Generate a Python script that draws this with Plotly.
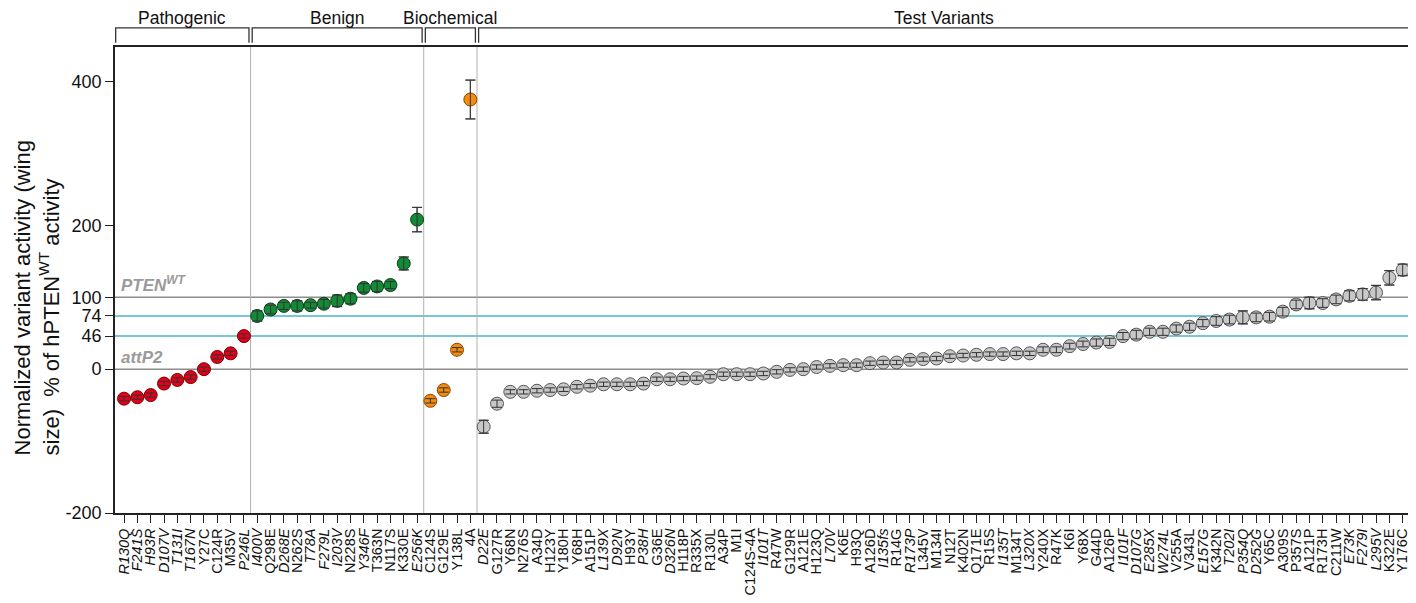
import plotly.graph_objects as go

# ---------------- data ----------------
path_labels = ["R130Q", "F241S", "H93R", "D107V", "T131I", "T167N", "Y27C", "C124R", "M35V", "P246L"]
path_vals = [-41, -39, -36, -20, -15, -11, 0, 17, 22, 46]
path_err = [3, 3, 3, 3, 3, 3, 3, 3, 3, 3]

benign_labels = ["I400V", "Q298E", "D268E", "N262S", "T78A", "F279L", "I203V", "N228S", "Y346F",
                 "T363N", "N117S", "K330E", "E256K"]
benign_vals = [74, 83, 88, 88, 89, 91, 95, 98, 113, 115, 117, 147, 208]
benign_err = [7, 6, 5, 7, 4, 6, 8, 7, 6, 7, 5, 9, 17]

bio_labels = ["C124S", "G129E", "Y138L", "4A"]
bio_vals = [-44, -29, 27, 375]
bio_err = [3, 3, 3, 27]

test_labels = ["D22E", "G127R", "Y68N", "N276S", "A34D", "H123Y", "Y180H", "Y68H", "A151P", "L139X",
               "D92N", "H93Y", "P38H", "G36E", "D326N", "H118P", "R335X", "R130L", "A34P", "M1I",
               "C124S-4A", "I101T", "R47W", "G129R", "A121E", "H123Q", "L70V", "K6E", "H93Q", "A126D",
               "I135fs", "R14G", "R173P", "L345V", "M134I", "N12T", "K402N", "Q171E", "R15S", "I135T",
               "M134T", "L320X", "Y240X", "R47K", "K6I", "Y68X", "G44D", "A126P", "I101F", "D107G",
               "E285X", "W274L", "V255A", "V343L", "E157G", "K342N", "T202I", "P354Q", "D252G", "Y65C",
               "A309S", "P357S", "A121P", "R173H", "C211W", "E73K", "F279I", "L295V", "K322E", "Y176C"]
test_vals = [-80, -48, -31.5, -31.5, -30, -29, -28, -24.5, -23, -21,
             -21, -21, -20, -14, -14, -13, -12.5, -10.6, -7, -7,
             -7, -6, -3.7, -1, 0, 3, 4.6, 5.6, 5.6, 8.3,
             9.3, 9.3, 13, 14, 14.8, 18, 19, 20, 21, 21,
             22, 22, 27, 27, 32, 35, 37, 38, 46, 48,
             52, 52, 56.5, 59, 64, 67, 69, 72, 72, 73,
             80, 90, 92, 92, 97, 102, 104, 106.5, 127, 138]
test_err = [9, 5, 3, 3, 3, 3, 3, 3, 3, 3,
            3, 3, 3, 3, 3, 3, 3, 3, 3, 3,
            3, 3, 3, 3, 3, 3, 3, 3, 3, 3,
            3, 3, 3, 3, 3, 3, 3, 3, 3, 3,
            3, 3, 4, 4, 4, 4, 5, 5, 5, 6,
            5, 5, 5, 5, 5, 6, 6, 9, 6, 6,
            6, 6, 8, 6, 6, 7, 8, 10, 10, 8]

italic_labels = {"R130Q", "F241S", "H93R", "D107V", "T131I", "T167N", "P246L",
                 "I400V", "D268E", "T78A", "F279L", "I203V", "Y346F", "E256K",
                 "D22E", "L139X", "D92N", "P38H", "D326N", "I101T", "L70V", "I135fs", "R173P",
                 "I135T", "L320X", "I101F", "D107G", "E285X", "W274L", "E157G", "T202I",
                 "P354Q", "D252G", "E73K", "F279I", "L295V"}

group_names = ["Pathogenic", "Benign", "Biochemical", "Test Variants"]
y_ticks = [-200, 0, 46, 74, 100, 200, 400]
ref_lines = [0, 100]
threshold_lines = [46, 74]

groups = [
    (path_labels, path_vals, path_err, "#e3001b", "#7a0000"),
    (benign_labels, benign_vals, benign_err, "#138a36", "#0b3d18"),
    (bio_labels, bio_vals, bio_err, "#f28c0f", "#8a4500"),
    (test_labels, test_vals, test_err, "#c8c8c8", "#555555"),
]

fig = go.Figure()
all_labels = []
start = 0
bounds = []
for labels, vals, errs, fill, edge in groups:
    xs = list(range(start, start + len(labels)))
    fig.add_trace(go.Scatter(
        x=xs, y=vals, mode="markers",
        marker=dict(size=13, color=fill, line=dict(color=edge, width=1)),
        error_y=dict(type="data", array=errs, visible=True, color="#444444", thickness=1, width=5),
        showlegend=False, cliponaxis=False,
    ))
    # error bars drawn again on top of the markers
    fig.add_trace(go.Scatter(
        x=xs, y=vals, mode="markers",
        marker=dict(size=1, color="rgba(0,0,0,0)"),
        error_y=dict(type="data", array=errs, visible=True, color="#333333", thickness=1, width=5),
        showlegend=False, hoverinfo="skip", cliponaxis=False,
    ))
    bounds.append((start, start + len(labels) - 1))
    all_labels += labels
    start += len(labels)

ticktext = [f"<i>{l}</i>" if l in italic_labels else l for l in all_labels]
n = len(all_labels)

shapes = []
for v in ref_lines:
    shapes.append(dict(type="line", xref="paper", x0=0, x1=1, yref="y", y0=v, y1=v,
                       line=dict(color="#8c8c8c", width=1.5), layer="below"))
for v in threshold_lines:
    shapes.append(dict(type="line", xref="paper", x0=0, x1=1, yref="y", y0=v, y1=v,
                       line=dict(color="#4db3c9", width=1.5), layer="below"))
for (a, b) in bounds[:-1]:
    shapes.append(dict(type="line", xref="x", x0=b + 0.5, x1=b + 0.5, yref="paper", y0=0, y1=1,
                       line=dict(color="#b0b0b0", width=1), layer="below"))

x_lo, x_hi = -0.68, n - 0.45
yt, yb = 1.041, 1.009
annotations = []
for i, (a, b) in enumerate(bounds):
    x0 = x_lo + 0.05 if i == 0 else a - 0.38
    x1 = x_hi - 0.1 if i == len(bounds) - 1 else b + 0.38
    shapes.append(dict(type="path", xref="x", yref="paper",
                       path=f"M {x0},{yb} L {x0},{yt} L {x1},{yt} L {x1},{yb}",
                       line=dict(color="#333333", width=1.3)))
    annotations.append(dict(x=(x0 + x1) / 2, y=1.063, xref="x", yref="paper",
                            text=group_names[i], showarrow=False,
                            font=dict(size=17.5, color="#111111"), yanchor="middle"))

annotations.append(dict(x=0.003, y=100, xref="paper", yref="y", text="<b><i>PTEN<sup>WT</sup></i></b>",
                        showarrow=False, xanchor="left", yanchor="bottom",
                        font=dict(size=17, color="#9a9a9a")))
annotations.append(dict(x=0.003, y=0, xref="paper", yref="y", text="<b><i>attP2</i></b>",
                        showarrow=False, xanchor="left", yanchor="bottom",
                        font=dict(size=17, color="#9a9a9a")))
annotations.append(dict(x=-0.060, y=0.461, xref="paper", yref="paper",
                        text="Normalized variant activity (wing<br>size)&nbsp; % of hPTEN<sup>WT</sup> activity",
                        textangle=-90, showarrow=False, xanchor="center", yanchor="middle", align="left",
                        font=dict(size=22, color="#111111")))

# page body has an 8px default margin, so the figure is sized to fit the window
fig.update_layout(
    width=1408, height=595,
    margin=dict(l=107, r=6, t=39, b=90, autoexpand=False),
    plot_bgcolor="white", paper_bgcolor="white",
    font=dict(family="Liberation Sans, Arial, sans-serif", color="#111111"),
    shapes=shapes, annotations=annotations,
)
fig.update_xaxes(range=[x_lo, x_hi], tickmode="array", tickvals=list(range(n)), ticktext=ticktext,
                 tickangle=-90, tickfont=dict(size=14.5), ticks="outside", ticklen=8, tickwidth=1.3,
                 tickcolor="#222222", showline=True, linecolor="#222222", linewidth=1.6, mirror=True,
                 showgrid=False, zeroline=False, automargin=False)
fig.update_yaxes(range=[-200, 448], tickmode="array", tickvals=y_ticks, ticktext=[str(t) for t in y_ticks],
                 tickfont=dict(size=18), ticks="outside", ticklen=8, tickwidth=1.3, tickcolor="#222222",
                 showline=True, linecolor="#222222", linewidth=1.6, mirror=True,
                 showgrid=False, zeroline=False, automargin=False)

fig.write_html("out.html")
